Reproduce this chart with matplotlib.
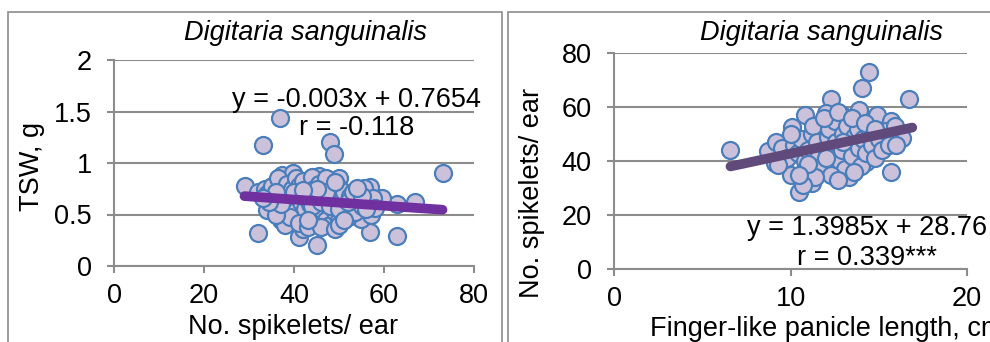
import numpy as np
import matplotlib
matplotlib.use("Agg")
import matplotlib.pyplot as plt
from matplotlib.patches import Rectangle

plt.rcParams['font.family'] = ['Liberation Sans', 'DejaVu Sans']

# Left panel: TSW vs number of spikelets per ear
spikelets_x = [29, 31.9, 33, 36.9, 47.9, 48.9, 73, 45.2, 62.8, 56.9, 66.9, 62.8,
               41, 42, 34, 37, 54.9, 56.9, 55.5, 59.5, 37.3, 39.8, 48, 49.9, 45.6,
               32, 33.5, 34, 35, 35.5, 36, 36.5, 37.5, 38, 38.5, 39, 39.5, 40, 40.5,
               40, 41, 41.5, 42, 42.5, 43, 43.5, 44, 44, 44.5, 45, 45.5, 45, 46,
               46.5, 47, 47, 47.5, 48, 48.5, 49, 49.5, 50, 50.5, 51, 51.5, 52, 52.5,
               53, 53.5, 54, 55, 56, 57, 57.5, 58, 38, 39, 41, 43, 46, 49, 50, 42,
               44, 46, 48, 50, 52, 36, 37, 34.5, 43, 51, 53, 55, 47, 45, 40, 36, 42,
               49, 54, 56, 33]
tsw_y = [0.78, 0.32, 1.17, 1.44, 1.20, 1.09, 0.90, 0.20, 0.29, 0.33, 0.62, 0.60,
         0.28, 0.36, 0.54, 0.45, 0.46, 0.77, 0.76, 0.66, 0.88, 0.90, 0.76, 0.85, 0.87,
         0.72, 0.75, 0.70, 0.78, 0.65, 0.62, 0.85, 0.72, 0.68, 0.80, 0.58, 0.75, 0.66, 0.85,
         0.52, 0.78, 0.62, 0.83, 0.55, 0.70, 0.60, 0.86, 0.48, 0.75, 0.65, 0.80, 0.42, 0.55,
         0.70, 0.85, 0.45, 0.62, 0.40, 0.68, 0.52, 0.78, 0.45, 0.62, 0.72, 0.55, 0.48, 0.68,
         0.60, 0.52, 0.66, 0.58, 0.62, 0.50, 0.66, 0.56, 0.40, 0.48, 0.42, 0.38, 0.38, 0.36, 0.40, 0.68,
         0.58, 0.62, 0.58, 0.55, 0.62, 0.50, 0.60, 0.62, 0.45, 0.45, 0.72, 0.68, 0.72, 0.75, 0.72, 0.72, 0.74,
         0.82, 0.76, 0.55, 0.66]
left_slope, left_icpt = -0.003, 0.7654
left_fit_range = [29, 73]

# Right panel: spikelets per ear vs finger-like panicle length
panicle_x = [6.57, 14.45, 14.05, 16.7, 12.3, 15.7, 10.5, 13.9, 14.9, 15.7, 16.3,
             14.3, 13.3, 11.2, 11.6, 10.1, 10.8, 8.7, 9.1, 9.2, 10.0, 12.9, 12.0,
             9.5, 9.8, 10.2, 10.4, 10.6, 10.8, 10.9, 11.0, 11.2, 11.3, 11.5, 11.6,
             11.8, 12.0, 12.1, 12.2, 12.4, 12.5, 12.6, 12.8, 12.9, 13.0, 13.1, 13.2,
             13.4, 13.5, 13.6, 13.8, 13.9, 14.0, 14.1, 14.3, 14.5, 14.6, 14.8, 15.0,
             15.2, 15.4, 15.6, 15.9, 16.0, 12.3, 11.4, 10.7, 12.7, 13.6, 9.3, 10.0,
             11.9, 12.7, 13.5, 14.2, 12.0, 13.0, 14.8, 11.0, 10.5]
spikelets_y = [44.1, 73, 67, 63, 63, 36, 28.6, 59, 57, 55, 48.5,
               39.7, 34, 32, 36.7, 52.6, 57, 43.7, 39.2, 47, 34.8, 57, 57.7,
               45, 41, 46, 43, 48, 40, 37, 44, 50, 53, 47, 42,
               38, 45, 49, 52, 42, 55, 47, 40, 44, 50, 37, 53,
               46, 42, 49, 52, 45, 38, 48, 43, 50, 46, 41, 48,
               44, 51, 46, 53, 46, 35, 34, 31, 33, 36, 38.5, 50,
               56, 58, 56, 54, 41, 47, 52, 39, 35]
right_slope, right_icpt = 1.3985, 28.76
right_fit_range = [6.6, 16.9]

W, H = 990, 342
fig = plt.figure(figsize=(9.9, 3.42), dpi=100)

def fx(px):
    return px / W

def fy(py):
    return 1 - py / H

grid_c = '#8c8c8c'
fs = 19.5

# panel frames
fig.patches.append(Rectangle((fx(8), -0.1), fx(502 - 8), fy(12) + 0.1, transform=fig.transFigure,
                             fill=False, edgecolor=grid_c, linewidth=1.2))
fig.patches.append(Rectangle((fx(508), -0.1), 0.6, fy(12) + 0.1, transform=fig.transFigure,
                             fill=False, edgecolor=grid_c, linewidth=1.2))

ax1 = fig.add_axes([fx(114), fy(266), fx(474 - 114), (266 - 60) / H])
ax2 = fig.add_axes([fx(614), fy(269), fx(967 - 614), (269 - 53) / H])

def style(ax, xt, yt, xl, yl):
    ax.set_xlim(xl)
    ax.set_ylim(yl)
    ax.set_xticks(xt)
    ax.set_yticks(yt)
    for s in ['top', 'right']:
        ax.spines[s].set_visible(False)
    for s in ['left', 'bottom']:
        ax.spines[s].set_color(grid_c)
        ax.spines[s].set_linewidth(1.5)
    ax.yaxis.grid(True, color=grid_c, linewidth=1.5)
    ax.set_axisbelow(True)
    ax.tick_params(axis='y', length=5, width=1.5, color=grid_c, pad=11, labelsize=fs)
    ax.tick_params(axis='x', length=5, width=1.5, color=grid_c, pad=7, labelsize=fs)
    ax.patch.set_alpha(0)

style(ax1, [0, 20, 40, 60, 80], [0, 0.5, 1, 1.5, 2], (0, 80), (0, 2))
ax1.set_yticklabels(['0', '0.5', '1', '1.5', '2'])
style(ax2, [0, 10, 20], [0, 20, 40, 60, 80], (0, 20), (0, 80))

mk = dict(s=150, facecolor='#ccc1da', edgecolor='#4a7ebb', linewidth=1.6, zorder=3, clip_on=False)
ax1.scatter(spikelets_x, tsw_y, **mk)
ax2.scatter(panicle_x, spikelets_y, **mk)

lx = np.array(left_fit_range)
ax1.plot(lx, left_slope * lx + left_icpt, color='#7030a0', linewidth=7,
         solid_capstyle='round', zorder=4)
rx = np.array(right_fit_range)
ax2.plot(rx, right_slope * rx + right_icpt, color='#604a7b', linewidth=7,
         solid_capstyle='round', zorder=4)

# titles and labels
fig.text(fx(305), fy(33), 'Digitaria sanguinalis', fontsize=fs, style='italic', ha='center', va='center')
fig.text(fx(822), fy(33), 'Digitaria sanguinalis', fontsize=fs, style='italic', ha='center', va='center')
fig.text(fx(32), fy(166), 'TSW, g', fontsize=fs, rotation=90, ha='center', va='center')
fig.text(fx(532), fy(193), 'No. spikelets/ ear', fontsize=fs, rotation=90, ha='center', va='center')
fig.text(fx(293), fy(327), 'No. spikelets/ ear', fontsize=fs, ha='center', va='center')
fig.text(fx(650), fy(329), 'Finger-like panicle length, cm', fontsize=fs, ha='left', va='center')

# trendline equations
fig.text(fx(356), fy(100), 'y = -0.003x + 0.7654', fontsize=fs, ha='center', va='center', zorder=1)
fig.text(fx(357), fy(128), 'r = -0.118', fontsize=fs, ha='center', va='center', zorder=1)
fig.text(fx(867), fy(228), 'y = 1.3985x + 28.76', fontsize=fs, ha='center', va='center', zorder=1)
fig.text(fx(867), fy(258), 'r = 0.339***', fontsize=fs, ha='center', va='center', zorder=1)

fig.savefig('out.png', dpi=100)
